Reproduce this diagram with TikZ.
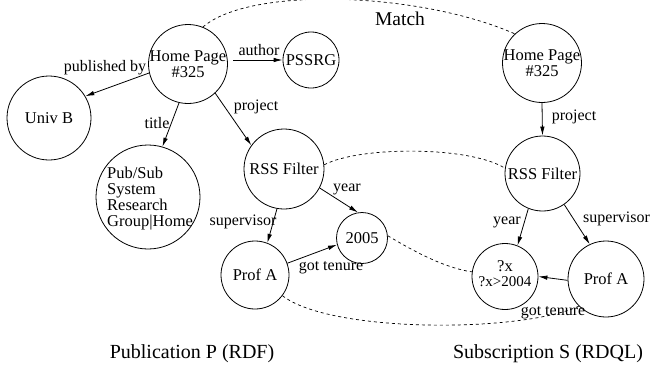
\documentclass[tikz,border=0pt]{standalone}
\usepackage{fontspec}
\setmainfont{Liberation Serif}
\newfontfamily\tmsfont{Liberation Serif}
\usetikzlibrary{arrows.meta}
\begin{document}
\begin{tikzpicture}[x=1pt,y=-1pt,
  every node/.style={font=\tmsfont},
  vtx/.style={circle,draw,line width=0.8pt,inner sep=0pt},
  txt/.style={font=\tmsfont\fontsize{16.5}{16}\selectfont,align=center,inner sep=0pt},
  lab/.style={font=\tmsfont\fontsize{16}{16}\selectfont,inner sep=0pt},
  captxt/.style={font=\tmsfont\fontsize{20}{20}\selectfont,inner sep=0pt},
  arr/.style={-{Latex[length=9pt,width=4.5pt]},line width=0.8pt},
  matchline/.style={dash pattern=on 3pt off 3pt,line width=0.7pt},
]
\useasboundingbox (0,0) rectangle (652,365);
% publication graph
\node[vtx,minimum size=79pt] (hpl) at (188,64) {};
\node[txt] (hplt) at (hpl.center) {Home Page\\\#325};
\node[vtx,minimum size=84pt] (univ) at (49,118) {};
\node[txt] (univt) at (univ.center) {Univ B};
\node[vtx,minimum size=56pt] (pss) at (311,60) {};
\node[txt] (psst) at (pss.center) {PSSRG};
\node[vtx,minimum size=104pt] (pub) at (148,197) {};
\node[txt,align=left,anchor=west] (pubt) at (107,199) {Pub/Sub\\System\\Research\\Group|Home};
\node[vtx,minimum size=80pt] (rssl) at (284,169) {};
\node[txt] (rsslt) at (rssl.center) {RSS Filter};
\node[vtx,minimum size=68pt] (profl) at (255,275) {};
\node[txt] (proflt) at (profl.center) {Prof A};
\node[vtx,minimum size=51pt] (yr) at (362,238) {};
\node[txt] (yrt) at (yr.center) {2005};
% subscription graph
\node[vtx,minimum size=79pt] (hpr) at (542,63) {};
\node[txt] (hprt) at (hpr.center) {Home Page\\\#325};
\node[vtx,minimum size=75pt] (rssr) at (542.5,173.5) {};
\node[txt] (rssrt) at (rssr.center) {RSS Filter};
\node[vtx,minimum size=66pt] (qx) at (505,276.5) {};
\node[txt] (qxt1) at (505,266) {?x};
\node[txt,font=\tmsfont\fontsize{15}{15}\selectfont] (qxt2) at (505,282) {?x>2004};
\node[vtx,minimum size=76pt] (profr) at (606,279) {};
\node[txt] (profrt) at (profr.center) {Prof A};
% arrows
\coordinate (aus) at (233,60);
\draw[arr] (hpl.193) -- (univ.31);
\draw[arr] (aus) -- (pss.180);
\draw[arr] (hpl.-103) -- (pub.74);
\draw[arr] (hpl.-47) -- (rssl.144);
\draw[arr] (rssl.-28) -- (yr.99);
\draw[arr] (rssl.-100) -- (profl.69);
\draw[arr] (profl.20) -- (yr.195);
\draw[arr] (hpr.-90) -- (rssr.90);
\draw[arr] (rssr.-112) -- (qx.68);
\draw[arr] (rssr.-55) -- (profr.115);
\draw[arr] (profr.182) -- (qx.0);
% labels
\node[lab] (l1) at (105,68) {published by};
\node[lab] (l2) at (259,50) {author};
\node[lab] (l3) at (157,123) {title};
\node[lab] (l4) at (256,107) {project};
\node[lab] (l5) at (347,189) {year};
\node[lab] (l6) at (243,222) {supervisor};
\node[lab] (l7) at (331,268) {got tenure};
\node[lab] (l8) at (574,117) {project};
\node[lab] (l9) at (507,222) {year};
\node[lab,anchor=west] (l10) at (583,219) {supervisor};
\node[lab] (l11) at (553,313) {got tenure};
\node[font=\tmsfont\fontsize{19.5}{20}\selectfont,inner sep=0pt] (match) at (400,19) {Match};
\node[captxt] (c1) at (192,354) {Publication P (RDF)};
\node[captxt] (c2) at (548,354) {Subscription S (RDQL)};
% dashed matches
\draw[matchline] (hpl.68) .. controls (250,-14) and (420,-8) .. (hpr.133);
\draw[matchline] (rssl.6) .. controls (360,146) and (470,146) .. (rssr.172);
\draw[matchline] (yr.5) .. controls (415,252) and (445,268) .. (qx.172);
\draw[matchline] (profl.-37) .. controls (330,333) and (520,333) .. (profr.225);
\end{tikzpicture}
\end{document}
